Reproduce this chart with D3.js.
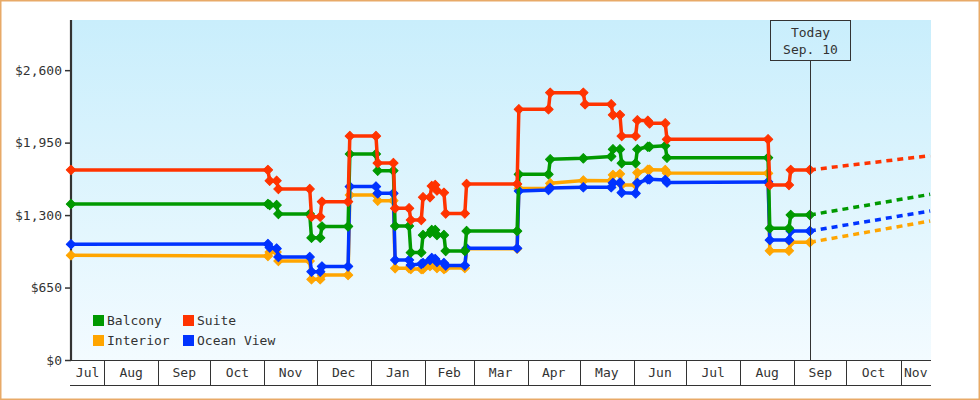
<!DOCTYPE html>
<html>
<head>
<meta charset="utf-8">
<script src="https://cdn.jsdelivr.net/npm/d3@7"></script>
<style>
  html, body { margin: 0; padding: 0; background: #fff; }
  svg { display: block; }
  text { font-family: "DejaVu Sans Mono", monospace; font-size: 13px; fill: #333; }
</style>
</head>
<body>
<svg id="chart" width="980" height="400"></svg>
<script>
// ---------- data ----------
const seriesNames = ["Interior", "Ocean View", "Balcony", "Suite"];
const seriesColors = ["#ffa500", "#0033ff", "#009900", "#ff3300"];
const legendOrder = ["Balcony", "Suite", "Interior", "Ocean View"];
const yTicks = [0, 650, 1300, 1950, 2600];
const todayDate = "2025-09-10";
const todayLabel = ["Today", "Sep. 10"];

const suite = [
  ["2024-07-13",1705],["2024-11-03",1705],["2024-11-04",1608],["2024-11-08",1608],
  ["2024-11-09",1534],["2024-11-27",1534],["2024-11-28",1285],["2024-12-03",1285],
  ["2024-12-04",1420],["2024-12-19",1420],["2024-12-20",2009],["2025-01-04",2009],
  ["2025-01-05",1767],["2025-01-14",1767],["2025-01-15",1361],["2025-01-23",1361],
  ["2025-01-24",1256],["2025-01-30",1256],["2025-01-31",1460],["2025-02-04",1460],
  ["2025-02-05",1561],["2025-02-07",1570],["2025-02-08",1520],["2025-02-12",1501],
  ["2025-02-13",1314],["2025-02-24",1314],["2025-02-25",1579],["2025-03-26",1579],
  ["2025-03-27",2249],["2025-04-13",2249],["2025-04-14",2398],["2025-05-03",2398],
  ["2025-05-04",2294],["2025-05-19",2294],["2025-05-20",2198],["2025-05-24",2198],
  ["2025-05-25",2009],["2025-06-02",2009],["2025-06-03",2150],["2025-06-09",2146],
  ["2025-06-10",2123],["2025-06-19",2123],["2025-06-20",1980],["2025-08-17",1980],
  ["2025-08-18",1570],["2025-08-29",1570],["2025-08-30",1705],["2025-09-10",1705]
];
const balcony = [
  ["2024-07-13",1399],["2024-11-03",1399],["2024-11-04",1390],["2024-11-08",1390],
  ["2024-11-09",1310],["2024-11-27",1310],["2024-11-28",1096],["2024-12-03",1096],
  ["2024-12-04",1198],["2024-12-19",1198],["2024-12-20",1848],["2025-01-04",1848],
  ["2025-01-05",1698],["2025-01-14",1698],["2025-01-15",1202],["2025-01-23",1202],
  ["2025-01-24",964],["2025-01-30",964],["2025-01-31",1121],["2025-02-04",1139],
  ["2025-02-05",1166],["2025-02-07",1166],["2025-02-08",1121],["2025-02-12",1121],
  ["2025-02-13",978],["2025-02-24",978],["2025-02-25",1157],["2025-03-26",1157],
  ["2025-03-27",1666],["2025-04-13",1666],["2025-04-14",1800],["2025-05-03",1809],
  ["2025-05-19",1826],["2025-05-20",1890],["2025-05-24",1890],["2025-05-25",1765],
  ["2025-06-02",1765],["2025-06-03",1890],["2025-06-09",1913],["2025-06-10",1913],
  ["2025-06-19",1922],["2025-06-20",1815],["2025-08-17",1815],["2025-08-18",1181],
  ["2025-08-29",1181],["2025-08-30",1301],["2025-09-10",1301]
];
const oceanView = [
  ["2024-07-13",1038],["2024-11-03",1040],["2024-11-04",1009],["2024-11-08",1000],
  ["2024-11-09",924],["2024-11-27",924],["2024-11-28",792],["2024-12-03",792],
  ["2024-12-04",839],["2024-12-19",839],["2024-12-20",1556],["2025-01-04",1556],
  ["2025-01-05",1495],["2025-01-14",1495],["2025-01-15",897],["2025-01-23",897],
  ["2025-01-24",852],["2025-01-30",861],["2025-01-31",870],["2025-02-04",897],
  ["2025-02-05",915],["2025-02-07",906],["2025-02-08",879],["2025-02-12",870],
  ["2025-02-13",848],["2025-02-24",848],["2025-02-25",1002],["2025-03-26",1002],
  ["2025-03-27",1516],["2025-04-13",1525],["2025-04-14",1543],["2025-05-03",1549],
  ["2025-05-19",1549],["2025-05-20",1588],["2025-05-24",1591],["2025-05-25",1501],
  ["2025-06-02",1495],["2025-06-03",1588],["2025-06-09",1621],["2025-06-10",1621],
  ["2025-06-19",1615],["2025-06-20",1592],["2025-08-17",1597],["2025-08-18",1076],
  ["2025-08-29",1076],["2025-08-30",1157],["2025-09-10",1157]
];
const interior = [
  ["2024-07-13",939],["2024-11-03",933],["2024-11-04",969],["2024-11-08",969],
  ["2024-11-09",888],["2024-11-27",888],["2024-11-28",724],["2024-12-03",724],
  ["2024-12-04",762],["2024-12-19",762],["2024-12-20",1480],["2025-01-04",1480],
  ["2025-01-05",1429],["2025-01-14",1429],["2025-01-15",823],["2025-01-23",823],
  ["2025-01-24",816],["2025-01-30",816],["2025-01-31",816],["2025-02-04",843],
  ["2025-02-05",857],["2025-02-07",852],["2025-02-08",825],["2025-02-12",816],
  ["2025-02-13",825],["2025-02-24",825],["2025-02-25",998],["2025-03-26",998],
  ["2025-03-27",1538],["2025-04-13",1538],["2025-04-14",1585],["2025-05-03",1610],
  ["2025-05-19",1608],["2025-05-20",1660],["2025-05-24",1669],["2025-05-25",1570],
  ["2025-06-02",1570],["2025-06-03",1680],["2025-06-09",1707],["2025-06-10",1707],
  ["2025-06-19",1704],["2025-06-20",1677],["2025-08-17",1675],["2025-08-18",980],
  ["2025-08-29",980],["2025-08-30",1056],["2025-09-10",1056]
];
const interiorForecast  = [["2025-09-10",1056],["2025-11-18",1247]];
const oceanViewForecast = [["2025-09-10",1157],["2025-11-18",1337]];
const balconyForecast   = [["2025-09-10",1301],["2025-11-18",1486]];
const suiteForecast     = [["2025-09-10",1705],["2025-11-18",1833]];

const seriesData = [interior, oceanView, balcony, suite];
const forecastData = [interiorForecast, oceanViewForecast, balconyForecast, suiteForecast];

// ---------- layout ----------
const pL = 71, pR = 931, pT = 20, pB = 360, axB = 385;
const parse = d3.timeParse("%Y-%m-%d");
const x = d3.scaleTime()
  .domain([new Date(2024, 6, 13), new Date(2025, 10, 18, 12)])
  .range([pL, pR]);
const y = d3.scaleLinear().domain([0, 3050]).range([pB, pT]);

const svg = d3.select("#chart");

// border
svg.append("rect").attr("x", 0.75).attr("y", 0.75).attr("width", 978.5).attr("height", 398.5)
  .attr("fill", "#fff").attr("stroke", "#e8aa68").attr("stroke-width", 1.5);

// gradient plot background
const defs = svg.append("defs");
const grad = defs.append("linearGradient").attr("id", "bg").attr("x1", 0).attr("y1", 0).attr("x2", 0).attr("y2", 1);
grad.append("stop").attr("offset", "0%").attr("stop-color", "#c9eefc");
grad.append("stop").attr("offset", "100%").attr("stop-color", "#f3fbff");
svg.append("rect").attr("x", pL).attr("y", pT).attr("width", pR - pL).attr("height", pB - pT)
  .attr("fill", "url(#bg)");

defs.append("clipPath").attr("id", "clip").append("rect")
  .attr("x", pL - 6).attr("y", pT).attr("width", pR - pL + 6).attr("height", pB - pT);

// y axis
const yAxis = d3.axisLeft(y).tickValues(yTicks).tickSize(6).tickPadding(3)
  .tickFormat(d3.format("$,.0f"));
const yg = svg.append("g").attr("transform", `translate(${pL},0)`).call(yAxis);
yg.select(".domain").remove();
yg.selectAll(".tick line").attr("stroke", "#333").attr("stroke-width", 1.5);
yg.selectAll(".tick text").attr("fill", "#333")
  .style("font-family", '"DejaVu Sans Mono", monospace').style("font-size", "13px");
svg.append("line").attr("x1", pL).attr("x2", pL).attr("y1", pT).attr("y2", pB + 1)
  .attr("stroke", "#333").attr("stroke-width", 2.2);

// x axis (month bands)
svg.append("line").attr("x1", pL - 1).attr("x2", pR).attr("y1", pB + 0.5).attr("y2", pB + 0.5)
  .attr("stroke", "#333").attr("stroke-width", 1);
svg.append("line").attr("x1", pL - 1).attr("x2", pR).attr("y1", axB + 0.5).attr("y2", axB + 0.5)
  .attr("stroke", "#333").attr("stroke-width", 1);
const [d0, d1] = x.domain();
const monthStarts = d3.timeMonth.range(d3.timeMonth.floor(d0), d1);
const fmtMonth = d3.timeFormat("%b");
monthStarts.forEach(m => {
  const next = d3.timeMonth.offset(m, 1);
  const xa = Math.max(x(m), pL), xb = Math.min(x(next), pR);
  if (m > d0) {
    svg.append("line").attr("x1", Math.round(x(m)) + 0.5).attr("x2", Math.round(x(m)) + 0.5)
      .attr("y1", pB).attr("y2", axB).attr("stroke", "#333").attr("stroke-width", 1);
  }
  svg.append("text").attr("x", (xa + xb) / 2).attr("y", 377).attr("text-anchor", "middle").text(fmtMonth(m));
});

// lines
const line = d3.line().x(d => x(parse(d[0]))).y(d => y(d[1])).curve(d3.curveLinear);
const plot = svg.append("g").attr("clip-path", "url(#clip)");
const diamond = d3.symbol(d3.symbolSquare, 44);

seriesData.forEach((data, i) => {
  const col = seriesColors[i];
  plot.append("path").datum(forecastData[i]).attr("d", line).attr("fill", "none")
    .attr("stroke", col).attr("stroke-width", 3.5).attr("stroke-dasharray", "6,5");
  plot.append("path").datum(data).attr("d", line).attr("fill", "none")
    .attr("stroke", col).attr("stroke-width", 3.5).attr("stroke-linejoin", "round");
  plot.selectAll(null).data(data).enter().append("path")
    .attr("d", diamond)
    .attr("transform", d => `translate(${x(parse(d[0]))},${y(d[1])}) rotate(45)`)
    .attr("fill", col).attr("stroke", col).attr("stroke-width", 1).attr("stroke-linejoin", "round");
});

// today marker
const tx = Math.round(x(parse(todayDate))) + 0.5;
svg.append("line").attr("x1", tx).attr("x2", tx).attr("y1", 60).attr("y2", pB)
  .attr("stroke", "#333").attr("stroke-width", 1);
svg.append("rect").attr("x", tx - 40).attr("y", 20.5).attr("width", 80).attr("height", 40)
  .attr("fill", "none").attr("stroke", "#333").attr("stroke-width", 1);
todayLabel.forEach((t, i) => {
  svg.append("text").attr("x", tx).attr("y", 37 + i * 17).attr("text-anchor", "middle").text(t);
});

// legend
legendOrder.forEach((name, k) => {
  const col = seriesColors[seriesNames.indexOf(name)];
  const lx = 93 + (k % 2) * 90, ly = 315 + Math.floor(k / 2) * 20;
  svg.append("rect").attr("x", lx).attr("y", ly).attr("width", 11).attr("height", 11).attr("fill", col);
  svg.append("text").attr("x", lx + 14).attr("y", ly + 10).text(name);
});
</script>
</body>
</html>
